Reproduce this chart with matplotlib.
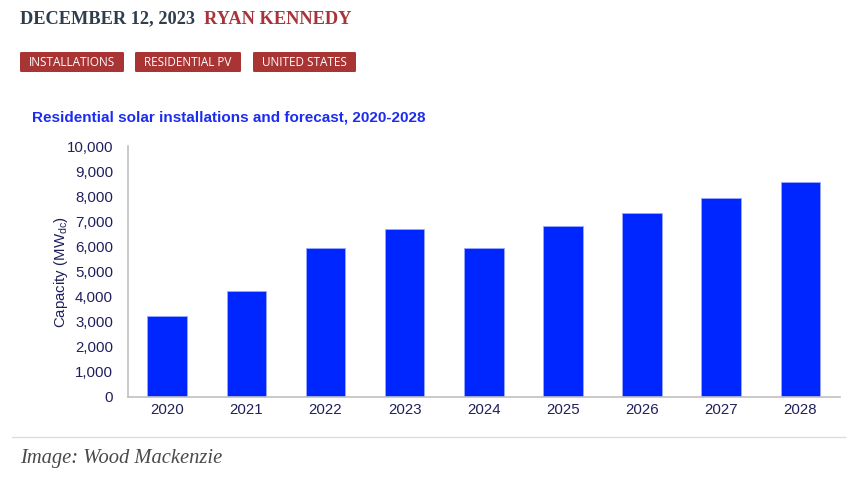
import matplotlib
matplotlib.use('Agg')
import matplotlib.pyplot as plt
from matplotlib.patches import FancyBboxPatch
from matplotlib.ticker import FuncFormatter

# data
years = ['2020', '2021', '2022', '2023', '2024', '2025', '2026', '2027', '2028']
capacity = [3220, 4230, 5950, 6700, 5940, 6810, 7340, 7950, 8590]
tags = ['INSTALLATIONS', 'RESIDENTIAL PV', 'UNITED STATES']
tag_x = [20, 135, 253]
tag_w = [104, 106, 103]

W, H = 853, 482
fig = plt.figure(figsize=(W / 100, H / 100), dpi=100)
fig.patch.set_facecolor('white')

def fx(px):
    return px / W

def fy(py):
    return 1 - py / H

# header
fig.text(fx(20), fy(19), 'DECEMBER 12, 2023', family='Liberation Serif', weight='bold',
         fontsize=13.2, color='#2f3d4c', va='center', ha='left')
fig.text(fx(204), fy(19), 'RYAN KENNEDY', family='Liberation Serif', weight='bold',
         fontsize=13.2, color='#a8343a', va='center', ha='left')

for t, x, w in zip(tags, tag_x, tag_w):
    box = FancyBboxPatch((fx(x), fy(72)), fx(w), 20 / H, boxstyle='round,pad=0,rounding_size=0.002',
                         transform=fig.transFigure, facecolor='#a93434', edgecolor='none')
    fig.patches.append(box)
    fig.text(fx(x + w / 2), fy(62.5), t, family='Open Sans', fontsize=8.5, color='white',
             ha='center', va='center')

# chart title
fig.text(fx(32), fy(118), 'Residential solar installations and forecast, 2020-2028',
         family='Liberation Sans', weight='bold', fontsize=11, color='#1c2cf0',
         ha='left', va='center')

ax = fig.add_axes([fx(127.6), fy(396.5), fx(839.9 - 127.6), (396.5 - 146.5) / H])
ax.bar(range(len(years)), capacity, width=0.5, color='#0026ff', edgecolor='#9aa8ff', linewidth=0.6)
ax.set_xlim(-0.5, len(years) - 0.5)
ax.set_ylim(0, 10000)
ax.set_yticks(range(0, 10001, 1000))
ax.yaxis.set_major_formatter(FuncFormatter(lambda v, p: f'{int(v):,}'))
ax.set_xticks(range(len(years)))
ax.set_xticklabels(years)
for s in ['top', 'right']:
    ax.spines[s].set_visible(False)
for s in ['left', 'bottom']:
    ax.spines[s].set_color('#c0c0c0')
    ax.spines[s].set_linewidth(1.2)
ax.tick_params(length=0, labelsize=10.8, labelcolor='#1f1f5c')
ax.tick_params(axis='y', pad=10.5)
ax.tick_params(axis='x', pad=5)
for lab in ax.get_xticklabels() + ax.get_yticklabels():
    lab.set_family('Liberation Sans')
ax.set_ylabel('Capacity (MW$_{\\mathregular{dc}}$)', family='Liberation Sans', fontsize=10.8,
              color='#1f1f5c', labelpad=-2.5)

# footer
fig.add_artist(plt.Line2D([fx(12), fx(845)], [fy(437), fy(437)], transform=fig.transFigure,
                          color='#d8dfdf', linewidth=1))
fig.text(fx(20), fy(458), 'Image: Wood Mackenzie', family='Liberation Serif', style='italic',
         fontsize=14.8, color='#4a4a4a', ha='left', va='center')

fig.savefig('out.png', dpi=100)
